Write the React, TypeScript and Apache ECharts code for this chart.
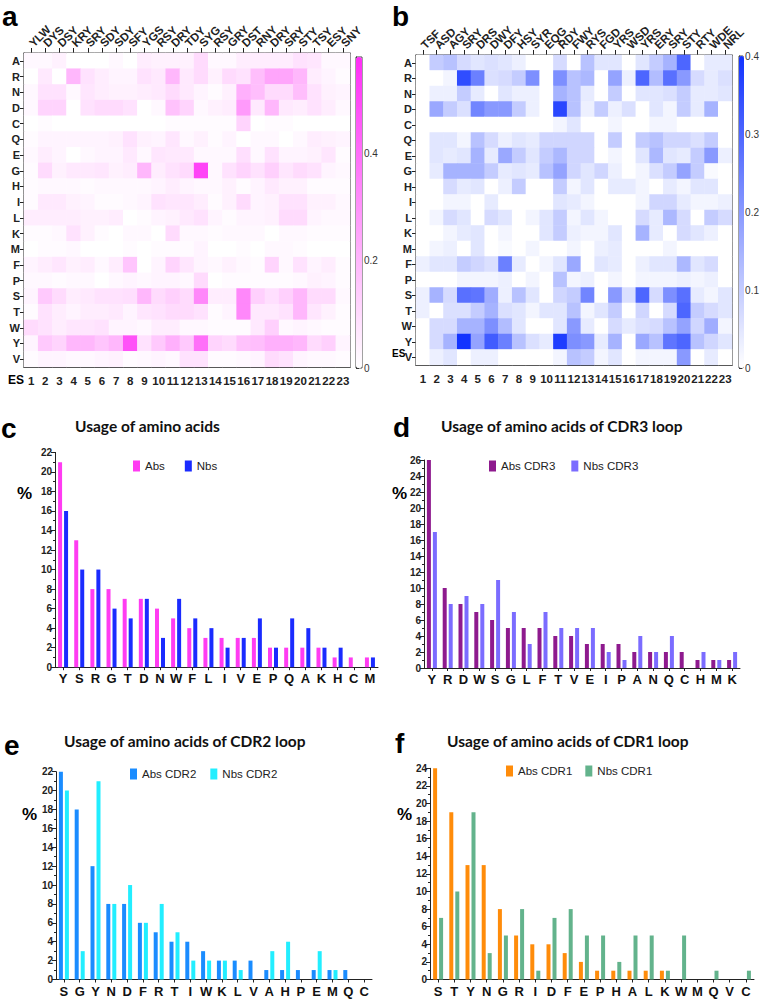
import React, { useEffect, useRef } from "react";
import * as echarts from "echarts";

const FONT = "Liberation Sans, Arial, sans-serif";
const TFONT = "Lato, sans-serif";

const rowLabels = ["A","R","N","D","C","Q","E","G","H","I","L","K","M","F","P","S","T","W","Y","V"];
const esLabels = ["1","2","3","4","5","6","7","8","9","10","11","12","13","14","15","16","17","18","19","20","21","22","23"];
const seqA = ["YLW","DYS","DSY","KRY","SRY","SDY","SDY","SFY","YGS","RSY","DRY","TDY","SYG","RSY","GRY","DST","RNY","DRY","SRY","STY","TSY","ESY","SNY"];
const seqB = ["TSF","ASD","AGY","SRY","DRS","DWY","DFY","HSY","SYR","EQG","RDY","FWY","RYS","FGD","YRS","WSD","YRS","ERY","SRY","STY","RTY","WDE","NRL"];

const heatA = [
  [0.02,0.02,0.04,0,0,0,0.02,0,0.05,0.04,0.04,0.04,0.1,0.02,0.02,0.05,0.05,0.05,0.05,0.08,0.07,0.02,0.02],
  [0,0.06,0,0.2,0.08,0.05,0.03,0.03,0.08,0.06,0.2,0.06,0.1,0.04,0.1,0.08,0.18,0.25,0.25,0.2,0.05,0.03,0.01],
  [0.02,0.08,0.08,0.02,0.07,0.05,0.04,0.04,0.05,0.06,0.1,0.06,0.03,0.01,0.04,0.22,0.18,0.1,0.1,0.18,0.08,0.04,0.03],
  [0.02,0.12,0.12,0,0.08,0.1,0.1,0.08,0,0.02,0.17,0.12,0.02,0.04,0.05,0.28,0.06,0.2,0.06,0.05,0.08,0.05,0.02],
  [0,0.01,0,0,0,0,0,0,0,0,0.01,0.01,0.01,0.01,0.01,0.12,0,0.01,0.01,0,0,0,0],
  [0.01,0.03,0.03,0.03,0.03,0.03,0.04,0.08,0.04,0.03,0.07,0.02,0.04,0.01,0.03,0,0.02,0.02,0,0.02,0.05,0.04,0.03],
  [0.02,0.05,0.03,0,0.02,0.03,0.03,0.06,0.02,0.07,0.06,0.06,0.02,0.02,0.02,0.09,0.02,0.08,0.03,0.03,0.04,0.07,0.01],
  [0.01,0.1,0.04,0.06,0.06,0.07,0.04,0.05,0.2,0.05,0.08,0.1,0.52,0.02,0.08,0.12,0.08,0.13,0.07,0.1,0.08,0.03,0.02],
  [0.01,0.02,0.02,0.02,0.01,0.02,0.02,0.02,0.02,0.03,0.05,0.03,0.02,0.02,0.04,0.01,0.03,0.06,0.04,0.04,0.01,0.01,0.01],
  [0.01,0.06,0.06,0.04,0.03,0.01,0.01,0.02,0.03,0.08,0.07,0.07,0.05,0.01,0.04,0.1,0.03,0.04,0.08,0.08,0.04,0.04,0.02],
  [0.05,0.05,0.05,0.05,0.04,0.04,0.05,0,0.01,0.03,0.04,0.06,0.08,0.03,0.01,0.03,0.03,0.04,0.1,0.1,0.03,0.02,0.02],
  [0.01,0.01,0.02,0.08,0.04,0.01,0,0.02,0.02,0,0.1,0.02,0.02,0.01,0.02,0.02,0.02,0,0.02,0.02,0.01,0.01,0.01],
  [0,0.01,0.01,0.02,0,0,0,0.01,0,0.01,0.01,0.01,0.03,0,0,0.01,0,0.02,0.02,0.01,0,0,0],
  [0.03,0.05,0.07,0.04,0.05,0.02,0.05,0.16,0,0.03,0.12,0.07,0.03,0.02,0.04,0.02,0.01,0.12,0.02,0.08,0.03,0.05,0.01],
  [0.02,0.02,0.01,0.02,0.02,0,0.02,0.03,0.02,0.03,0.03,0.02,0.1,0,0.01,0.01,0.01,0.01,0.01,0.02,0.04,0.03,0.01],
  [0.03,0.15,0.1,0.05,0.06,0.08,0.08,0.09,0.2,0.1,0.13,0.1,0.33,0.05,0.05,0.33,0.13,0.09,0.13,0.2,0.1,0.1,0.02],
  [0.01,0.08,0.05,0.03,0.05,0.05,0.06,0.03,0.07,0.08,0.1,0.1,0.08,0.01,0.03,0.33,0.06,0.06,0.08,0.2,0.07,0.04,0.01],
  [0.1,0.08,0.05,0.07,0.07,0.08,0.03,0.03,0.02,0.05,0.05,0.02,0.02,0.01,0.01,0.01,0.06,0.13,0.02,0.03,0.02,0.01,0.01],
  [0.03,0.15,0.12,0.2,0.2,0.16,0.2,0.48,0.08,0.15,0.22,0.15,0.4,0.12,0.1,0.17,0.18,0.22,0.22,0.2,0.1,0.13,0.03],
  [0.01,0.03,0.03,0.02,0.02,0.03,0.04,0.01,0.02,0.03,0.02,0.08,0.08,0.01,0.01,0.02,0.03,0.1,0.08,0.03,0.02,0.02,0.01],
];

const heatB = [
  [0,0.1,0.12,0.07,0.05,0.06,0.05,0.03,0,0,0.07,0,0.12,0.05,0.05,0,0.05,0.1,0.15,0.3,0,0.04,0.04],
  [0,0,0.02,0.35,0.25,0.06,0.07,0.1,0.22,0,0.22,0.12,0.14,0,0.18,0.03,0.3,0.13,0.28,0.2,0.07,0.04,0.06],
  [0,0.03,0.03,0.1,0.04,0,0.05,0.03,0.03,0,0.15,0.12,0.04,0,0.1,0,0.05,0.05,0.06,0.1,0.04,0.04,0.05],
  [0,0.17,0.1,0.06,0.24,0.2,0.2,0.1,0.03,0,0.36,0.12,0.03,0.1,0.03,0.06,0,0.05,0.02,0.1,0.04,0.15,0],
  [0,0,0,0,0,0,0,0,0,0,0.02,0.05,0,0,0.02,0,0,0.02,0.02,0,0,0,0],
  [0,0.05,0.05,0.02,0.12,0.07,0.03,0.05,0.04,0.08,0.08,0.08,0.08,0,0.1,0,0.1,0.12,0.08,0.08,0.06,0.1,0],
  [0,0.05,0.04,0.05,0.15,0.04,0.17,0.1,0.05,0.1,0.14,0.08,0.08,0,0.02,0,0.05,0.14,0.05,0.04,0.1,0.2,0.03],
  [0,0.04,0.15,0.15,0.15,0.1,0.04,0.05,0.04,0.12,0.18,0.08,0.05,0.08,0.03,0,0.02,0.06,0.1,0.18,0.1,0.01,0],
  [0,0,0.07,0.04,0.05,0,0.03,0.1,0,0,0.1,0.02,0.05,0,0.04,0.04,0.02,0,0.04,0.02,0.05,0.05,0],
  [0,0,0.02,0.02,0,0.04,0,0,0,0,0.05,0.04,0.02,0,0,0,0.02,0.08,0.08,0.04,0.02,0.02,0.03],
  [0,0.02,0.07,0.05,0,0.07,0.05,0,0.02,0.05,0.1,0.02,0.05,0.02,0,0,0.07,0.04,0.14,0.07,0,0.1,0.07],
  [0,0,0.02,0.04,0.05,0,0.02,0,0,0.05,0.1,0.03,0.02,0.02,0.05,0,0.15,0.04,0,0.07,0.05,0.03,0],
  [0,0.02,0.03,0,0.05,0,0.01,0,0.02,0,0,0.02,0,0.03,0.04,0,0,0,0.02,0,0,0,0],
  [0.03,0.05,0.05,0.1,0.08,0.06,0.25,0.04,0,0.02,0.05,0.17,0,0.05,0.04,0,0.03,0.05,0.05,0.14,0.05,0.07,0],
  [0,0,0,0.02,0.02,0.02,0.03,0,0.02,0,0.12,0.02,0.03,0,0.02,0,0.02,0.02,0.02,0.03,0.02,0.03,0],
  [0.03,0.15,0.07,0.28,0.27,0.16,0.03,0.12,0.05,0,0.08,0.1,0.24,0,0.2,0.06,0.3,0.07,0.22,0.28,0.04,0.02,0.05],
  [0.03,0,0.06,0.06,0.1,0.15,0.06,0.05,0.02,0.05,0.05,0.12,0.02,0.05,0.1,0,0.08,0,0.07,0.3,0.1,0.07,0.05],
  [0,0.07,0.07,0.15,0.15,0.22,0.13,0.05,0,0,0.05,0.2,0.04,0,0.07,0.04,0.06,0.07,0.12,0.18,0.08,0.16,0.02],
  [0,0.07,0.15,0.4,0.18,0.32,0.25,0.12,0.06,0.04,0.38,0.22,0.2,0.04,0.15,0,0.17,0.12,0.27,0.3,0.12,0.08,0.05],
  [0,0.03,0.05,0,0.03,0.03,0,0,0,0,0.02,0.12,0.1,0.02,0.05,0,0.02,0.02,0.02,0.2,0,0.04,0],
];

const catsC = ["Y","S","R","G","T","D","N","W","F","L","I","V","E","P","Q","A","K","H","C","M"];
const absAll = [21,13,8,8,7,7,6,5,4,3,3,3,3,2,2,2,2,1,1,1];
const nbsAll = [16,10,10,6,5,7,3,7,5,4,2,3,5,2,5,4,2,2,0,1];

const catsD = ["Y","R","D","W","S","G","L","F","T","V","E","I","P","A","N","Q","C","H","M","K"];
const absCdr3 = [26,10,8,7,6,5,5,5,4,4,3,3,3,2,2,2,2,1,1,1];
const nbsCdr3 = [17,8,9,8,11,7,3,7,5,5,5,2,1,4,2,4,0,2,1,2];

const catsE = ["S","G","Y","N","D","F","R","T","I","W","K","L","V","A","H","P","E","M","Q","C"];
const absCdr2 = [22,18,12,8,8,6,5,4,4,3,2,2,2,1,1,1,1,1,1,0];
const nbsCdr2 = [20,3,21,8,10,6,8,5,2,2,2,1,0,3,4,0,3,1,0,0];

const catsF = ["S","T","Y","N","G","R","I","D","F","E","P","H","A","L","K","W","M","Q","V","C"];
const absCdr1 = [24,19,13,13,8,5,4,4,3,2,1,1,1,1,1,0,0,0,0,0];
const nbsCdr1 = [7,10,19,3,5,8,1,7,8,5,5,2,5,5,1,5,0,1,0,1];

const toCells = (m: number[][]) => {
  const out: number[][] = [];
  m.forEach((row, r) => row.forEach((v, c) => out.push([c, r, v])));
  return out;
};

const heatY = (gridIndex: number) => ({
  type: "category", gridIndex, data: rowLabels, inverse: true,
  axisLine: { show: true, lineStyle: { color: "#222", width: 1.2 } },
  axisTick: { show: true, length: 4, alignWithLabel: true, lineStyle: { color: "#222" } },
  axisLabel: { fontFamily: FONT, fontWeight: "bold", fontSize: 11, color: "#222", margin: 4, interval: 0 },
  splitLine: { show: false },
});
const heatTop = (gridIndex: number, data: string[]) => ({
  type: "category", gridIndex, data, position: "top",
  axisLine: { show: true, lineStyle: { color: "#222", width: 1.2 } },
  axisTick: { show: true, length: 5, alignWithLabel: true, lineStyle: { color: "#222" } },
  axisLabel: {
    fontFamily: FONT, fontWeight: "bold", fontSize: 11.5, color: "#222", rotate: -45, margin: 8, interval: 0,
    align: "left", verticalAlign: "middle",
  },
});
const heatBottom = (gridIndex: number) => ({
  type: "category", gridIndex, data: esLabels, position: "bottom",
  axisLine: { show: true, lineStyle: { color: "#222", width: 1.2 } },
  axisTick: { show: false },
  axisLabel: { fontFamily: FONT, fontWeight: "bold", fontSize: 11.5, color: "#222", margin: 8, interval: 0 },
});
const cbarX = (gridIndex: number) => ({ type: "value", gridIndex, show: false, min: 0, max: 1 });
const cbarY = (gridIndex: number, max: number, interval: number) => ({
  type: "value", gridIndex, min: 0, max, interval, position: "right",
  axisLine: { show: true, lineStyle: { color: "#333" } },
  axisTick: { show: true, length: 3, inside: false, lineStyle: { color: "#333" } },
  axisLabel: { fontFamily: FONT, fontSize: 10, color: "#333", margin: 2, showMaxLabel: max === 0.4 },
  splitLine: { show: false },
});
const barX = (gridIndex: number, data: string[]) => ({
  type: "category", gridIndex, data,
  axisLine: { show: true, lineStyle: { color: "#222", width: 1 } },
  axisTick: { show: true, alignWithLabel: true, length: 3, lineStyle: { color: "#222" } },
  axisLabel: { fontFamily: FONT, fontWeight: "bold", fontSize: 13, color: "#111", margin: 5, interval: 0 },
});
const barY = (gridIndex: number, max: number) => ({
  type: "value", gridIndex, min: 0, max, interval: 2,
  axisLine: { show: true, lineStyle: { color: "#222", width: 1 } },
  axisTick: { show: true, length: 4, lineStyle: { color: "#222" } },
  minorTick: { show: true, splitNumber: 2, length: 2, lineStyle: { color: "#222" } },
  splitLine: { show: false },
  axisLabel: { fontFamily: FONT, fontWeight: "bold", fontSize: 10, color: "#222", margin: 3 },
});
const bar = (name: string, xi: number, yi: number, data: number[], color: string) => ({
  type: "bar", name, xAxisIndex: xi, yAxisIndex: yi, data, barWidth: 4, barGap: "50%", itemStyle: { color },
});
const legend = (names: string[], left: number, top: number, gap: number) => ({
  data: names, left, top, itemWidth: 7, itemHeight: 11, itemGap: gap, icon: "rect", padding: 0,
  textStyle: { fontFamily: FONT, fontSize: 11.5, color: "#222" },
});
const title = (text: string, left: number, top: number) => ({
  text, left, top, padding: 0,
  textStyle: { fontFamily: TFONT, fontWeight: "bold", fontSize: 15.5, color: "#111" },
});
const txt = (text: string, x: number, y: number, size: number, weight = "bold") => ({
  type: "text", x, y, style: { text, fontFamily: FONT, fontSize: size, fontWeight: weight, fill: "#000", textVerticalAlign: "middle" },
});

const option: any = {
  animation: false,
  backgroundColor: "#fff",
  title: [
    title("Usage of amino acids", 75, 418),
    title("Usage of amino acids of CDR3 loop", 441, 418),
    title("Usage of amino acids of CDR2 loop", 64, 733),
    title("Usage of amino acids of CDR1 loop", 447, 733),
  ],
  legend: [
    legend(["Abs", "Nbs"], 133, 460, 20),
    legend(["Abs CDR3", "Nbs CDR3"], 489, 460, 16),
    legend(["Abs CDR2", "Nbs CDR2"], 130, 768, 14),
    legend(["Abs CDR1", "Nbs CDR1"], 506, 765, 13),
  ],
  grid: [
    { left: 24, top: 53, width: 326, height: 314, show: true, borderColor: "#222", borderWidth: 1.2, backgroundColor: "transparent" },
    { left: 356, top: 57, width: 6, height: 311, show: true, borderColor: "#444", borderWidth: 1 },
    { left: 416, top: 55, width: 316, height: 310, show: true, borderColor: "#222", borderWidth: 1.2 },
    { left: 739, top: 56, width: 5, height: 312, show: true, borderColor: "#444", borderWidth: 1 },
    { left: 55, top: 452.4, width: 323, height: 214.8 },
    { left: 424, top: 460, width: 316, height: 208 },
    { left: 56, top: 771.7, width: 316, height: 207.8 },
    { left: 430, top: 768.3, width: 324, height: 211.2 },
  ],
  xAxis: [
    heatTop(0, seqA), heatBottom(0), cbarX(1),
    heatTop(2, seqB), heatBottom(2), cbarX(3),
    barX(4, catsC), barX(5, catsD), barX(6, catsE), barX(7, catsF),
  ],
  yAxis: [
    heatY(0), cbarY(1, 0.58, 0.2), heatY(2), cbarY(3, 0.4, 0.1),
    barY(4, 22), barY(5, 26), barY(6, 22), barY(7, 24),
  ],
  visualMap: [
    {
      type: "continuous", seriesIndex: 0, dimension: 2, min: 0, max: 0.58, calculable: false,
      orient: "vertical", left: 356, top: 57, itemWidth: 6, itemHeight: 311, padding: 0, text: null,
      inRange: { color: ["#ffffff", "#ff2ef6"] }, textStyle: { fontSize: 0 },
    },
    {
      type: "continuous", seriesIndex: 1, dimension: 2, min: 0, max: 0.4, calculable: false,
      orient: "vertical", left: 739, top: 56, itemWidth: 5, itemHeight: 312, padding: 0, text: null,
      inRange: { color: ["#ffffff", "#1233ff"] }, textStyle: { fontSize: 0 },
    },
  ],
  series: [
    { type: "heatmap", xAxisIndex: 0, yAxisIndex: 0, data: toCells(heatA), itemStyle: { borderWidth: 0 } },
    { type: "heatmap", xAxisIndex: 3, yAxisIndex: 2, data: toCells(heatB), itemStyle: { borderWidth: 0 } },
    bar("Abs", 6, 4, absAll, "#ff3cf2"),
    bar("Nbs", 6, 4, nbsAll, "#1a2bff"),
    bar("Abs CDR3", 7, 5, absCdr3, "#8e1a8e"),
    bar("Nbs CDR3", 7, 5, nbsCdr3, "#7b6cff"),
    bar("Abs CDR2", 8, 6, absCdr2, "#1a8cff"),
    bar("Nbs CDR2", 8, 6, nbsCdr2, "#22eeff"),
    bar("Abs CDR1", 9, 7, absCdr1, "#ff8c0a"),
    bar("Nbs CDR1", 9, 7, nbsCdr1, "#63b38c"),
  ],
  graphic: [
    txt("a", 2, 16, 28), txt("b", 392, 16, 28),
    txt("c", 1, 428, 28), txt("d", 393, 427, 28),
    txt("e", 4, 745, 28), txt("f", 395, 743, 28),
    txt("ES", 8, 380, 12), txt("ES", 392, 353, 10),
    txt("%", 17, 493, 17), txt("%", 392, 493, 17),
    txt("%", 22, 814, 17), txt("%", 397, 814, 17),
  ],
};

export default function App() {
  const ref = useRef<HTMLDivElement>(null);
  useEffect(() => {
    const chart = echarts.init(ref.current!, null, { renderer: "svg" });
    chart.setOption(option);
    return () => chart.dispose();
  }, []);
  return (
    <div
      ref={ref}
      style={{ position: "absolute", left: 0, top: 0, width: 762, height: 999, background: "#fff" }}
    />
  );
}
